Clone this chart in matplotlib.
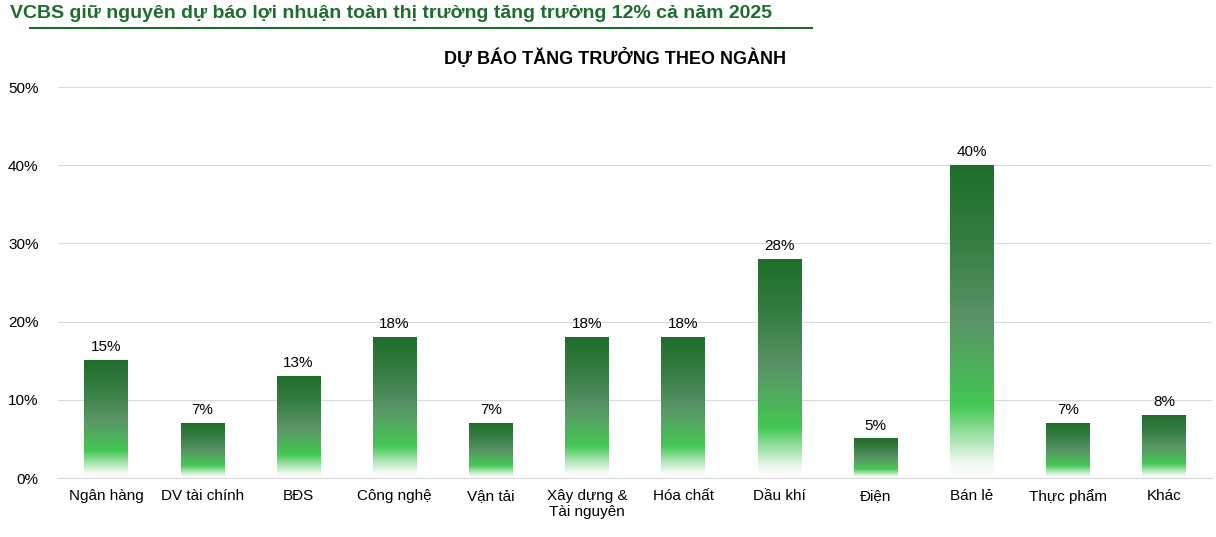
import matplotlib
matplotlib.use("Agg")
import matplotlib.pyplot as plt
import numpy as np
from matplotlib.colors import LinearSegmentedColormap

categories = ["Ngân hàng", "DV tài chính", "BĐS", "Công nghệ", "Vận tải",
              "Xây dựng &\nTài nguyên", "Hóa chất", "Dầu khí", "Điện", "Bán lẻ",
              "Thực phẩm", "Khác"]
values = [15, 7, 13, 18, 7, 18, 18, 28, 5, 40, 7, 8]
yticks = [0, 10, 20, 30, 40, 50]

plt.rcParams['font.family'] = ['Arial', 'Liberation Sans', 'DejaVu Sans']
fig = plt.figure(figsize=(12.16, 5.37), dpi=100)
ax = fig.add_axes([58/1216, 59/537, 1154/1216, 391/537])

# colormap: bottom (0) -> top (1)
cmap = LinearSegmentedColormap.from_list("g", [
    (0.0, "#ffffff"), (0.05, "#eef9ef"), (0.23, "#43c853"),
    (0.5, "#5a9466"), (0.75, "#367e43"), (1.0, "#1e6e2a")])
grad = np.linspace(0, 1, 256).reshape(-1, 1)

bars = ax.bar(range(len(values)), values, width=0.45, color="none")
for b, v in zip(bars, values):
    x0 = b.get_x(); w = b.get_width()
    ax.imshow(grad, cmap=cmap, origin="lower", aspect="auto",
              extent=(x0, x0 + w, 0, v), zorder=2)
    ax.text(x0 + w/2, v + 0.8, f"{v}%", ha="center", va="bottom", fontsize=11)

ax.set_xlim(-0.5, len(values) - 0.5)
ax.set_ylim(0, 50)
ax.set_yticks(yticks)
ax.set_yticklabels([f"{t}%" for t in yticks], fontsize=11)
ax.set_xticks(range(len(values)))
ax.set_xticklabels(categories, fontsize=11, va="top")
ax.tick_params(length=0, pad=8)
ax.yaxis.set_tick_params(pad=14)
ax.grid(axis="y", color="#d9d9d9", linewidth=0.8, zorder=0)
ax.set_axisbelow(True)
for s in ["top", "right", "left"]:
    ax.spines[s].set_visible(False)
ax.spines["bottom"].set_color("#d9d9d9")

fig.text(10/1216, 1 - 14/537, "VCBS giữ nguyên dự báo lợi nhuận toàn thị trường tăng trưởng 12% cả năm 2025",
         color="#1e6e2a", fontsize=14, fontweight="bold", va="center", ha="left")
fig.add_artist(plt.Line2D([30/1216, 812/1216], [1 - 28/537, 1 - 28/537], color="#1e6e2a", linewidth=1.5))
fig.text(615/1216, 1 - 58/537, "DỰ BÁO TĂNG TRƯỞNG THEO NGÀNH", fontsize=13, fontweight="bold",
         ha="center", va="center")
fig.savefig("out.png", dpi=100)
